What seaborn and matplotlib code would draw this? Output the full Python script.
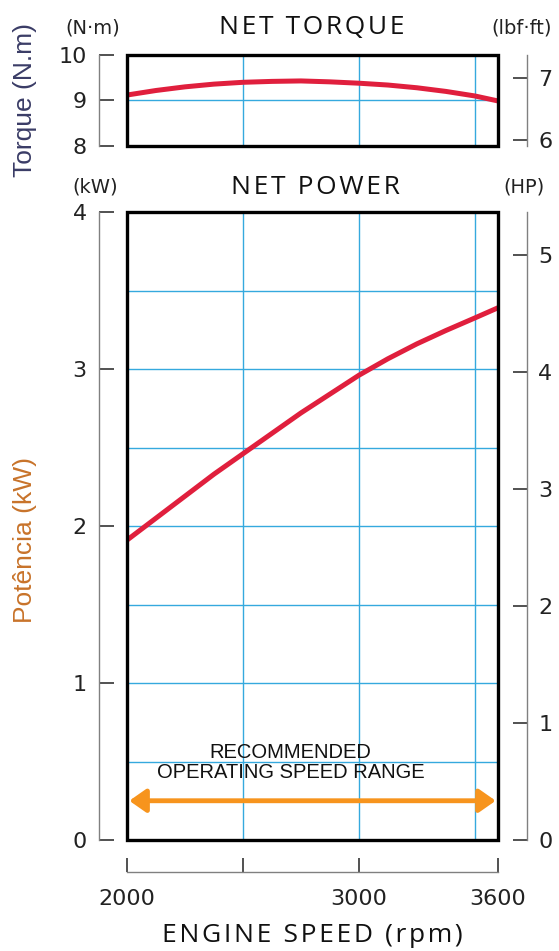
import matplotlib
matplotlib.use("Agg")
import matplotlib.pyplot as plt
import seaborn as sns
import pandas as pd
from matplotlib.patches import Rectangle

# valeurs
rpm = [2000, 2125, 2250, 2375, 2500, 2625, 2750, 2875, 3000, 3125, 3250, 3375, 3500, 3600]
torque_nm = [9.12, 9.22, 9.30, 9.36, 9.40, 9.42, 9.43, 9.41, 9.38, 9.34, 9.28, 9.20, 9.10, 8.99]
power_kw = [1.91, 2.05, 2.19, 2.33, 2.46, 2.59, 2.72, 2.84, 2.96, 3.065, 3.16, 3.245, 3.325, 3.39]

x_ticks = [2000, 2500, 3000, 3600]
x_ticklabels = ["2000", "", "3000", "3600"]
grid_rpm = [2500, 3000, 3500]
torque_ticks = [8, 9, 10]
torque_grid = [9]
lbf_ticks = [6, 7]
power_ticks = [0, 1, 2, 3, 4]
power_grid = [0.5, 1.0, 1.5, 2.0, 2.5, 3.0, 3.5]
hp_ticks = [0, 1, 2, 3, 4, 5]

NM_PER_LBFFT = 1.3558
KW_PER_HP = 0.7457

sns.set_style("white")
plt.rcParams["font.family"] = ["DejaVu Sans"]

W, H = 559, 951
fig = plt.figure(figsize=(W / 100, H / 100), dpi=100)


def rect(x0, y0, x1, y1):
    return [x0 / W, 1 - y1 / H, (x1 - x0) / W, (y1 - y0) / H]


def spaced(s):
    return "\u200a".join(s)


RED = "#e01f3d"
BLUE = "#35a9de"
GREY = "#808080"
ax_t = fig.add_axes(rect(127, 55, 498, 146))
ax_p = fig.add_axes(rect(127, 212, 498, 840))

df = pd.DataFrame({"rpm": rpm, "torque": torque_nm, "power": power_kw})


def style_axes(ax, ylim, yticks, grid_y, right_lim, right_ticks):
    ax.set_xlim(2000, 3600)
    ax.set_ylim(*ylim)
    for g in grid_rpm:
        ax.axvline(g, color=BLUE, lw=1.0, zorder=1)
    for g in grid_y:
        ax.axhline(g, color=BLUE, lw=1.0, zorder=1)
    ax.add_patch(Rectangle((0, 0), 1, 1, transform=ax.transAxes, fill=False,
                           ec="black", lw=2.4, clip_on=False, zorder=6))
    ax.spines["left"].set_position(("outward", 20))
    ax.spines["left"].set_color(GREY)
    ax.spines["left"].set_linewidth(1.0)
    ax.spines["right"].set_visible(False)
    ax.spines["top"].set_visible(False)
    ax.set_yticks(yticks)
    ax.set_yticklabels([str(t) for t in yticks])
    ax.tick_params(axis="y", left=True, direction="in", length=11, width=1.2,
                   color="#333333", pad=9, labelsize=16, labelcolor="#222222")
    ax.set_xlabel("")
    ax.set_ylabel("")

    axr = ax.twinx()
    axr.set_ylim(*right_lim)
    for side in ["left", "top", "bottom"]:
        axr.spines[side].set_visible(False)
    axr.spines["right"].set_position(("outward", 21))
    axr.spines["right"].set_color(GREY)
    axr.spines["right"].set_linewidth(1.0)
    axr.set_yticks(right_ticks)
    axr.set_yticklabels([str(t) for t in right_ticks])
    axr.tick_params(axis="y", right=True, direction="in", length=10, width=1.2,
                    color="#333333", pad=8, labelsize=16, labelcolor="#222222")
    axr.grid(False)
    return axr


# couple
sns.lineplot(data=df, x="rpm", y="torque", ax=ax_t, color=RED, lw=3.6, zorder=4)
style_axes(ax_t, (8, 10), torque_ticks, torque_grid,
           (8 / NM_PER_LBFFT, 10 / NM_PER_LBFFT), lbf_ticks)
ax_t.spines["bottom"].set_visible(False)
ax_t.set_xticks([])

# puissance
sns.lineplot(data=df, x="rpm", y="power", ax=ax_p, color=RED, lw=3.6, zorder=4)
style_axes(ax_p, (0, 4), power_ticks, power_grid,
           (0, 4 / KW_PER_HP), hp_ticks)
ax_p.spines["bottom"].set_position(("outward", 23))
ax_p.spines["bottom"].set_color(GREY)
ax_p.spines["bottom"].set_linewidth(1.0)
ax_p.set_xticks(x_ticks)
ax_p.set_xticklabels(x_ticklabels)
ax_p.tick_params(axis="x", bottom=True, direction="in", length=10, width=1.2,
                 color="#333333", pad=12, labelsize=16, labelcolor="#222222")

ax_p.annotate("", xy=(3590, 0.25), xytext=(2010, 0.25),
              arrowprops=dict(arrowstyle="<|-|>,head_length=0.5,head_width=0.35",
                              color="#f7941d", lw=3.5, mutation_scale=20,
                              shrinkA=0, shrinkB=0), zorder=5)
ax_p.text(2705, 0.56, "RECOMMENDED", ha="center", va="center",
          fontsize=14.5, family="Liberation Sans", color="#111111", zorder=5)
ax_p.text(2705, 0.43, "OPERATING SPEED RANGE", ha="center", va="center",
          fontsize=14.5, family="Liberation Sans", color="#111111", zorder=5)

title_font = ["Open Sans", "DejaVu Sans"]
fig.text(312 / W, 1 - 28 / H, spaced("NET TORQUE"), ha="center", va="center",
         fontsize=19, family=title_font, color="#111111")
fig.text(315 / W, 1 - 187 / H, spaced("NET POWER"), ha="center", va="center",
         fontsize=19, family=title_font, color="#111111")
fig.text(312 / W, 1 - 936 / H, spaced("ENGINE SPEED (rpm)"), ha="center",
         va="center", fontsize=19, family=title_font, color="#111111")

fig.text(93 / W, 1 - 28 / H, "(N·m)", ha="center", va="center", fontsize=14,
         color="#222222")
fig.text(522 / W, 1 - 28 / H, "(lbf·ft)", ha="center", va="center",
         fontsize=14, color="#222222")
fig.text(95 / W, 1 - 187 / H, "(kW)", ha="center", va="center", fontsize=14,
         color="#222222")
fig.text(524 / W, 1 - 187 / H, "(HP)", ha="center", va="center", fontsize=14,
         color="#222222")

fig.text(25 / W, 1 - 100 / H, "Torque (N.m)", rotation=90, ha="center",
         va="center", fontsize=19, family="Liberation Sans", color="#3a3c66")
fig.text(25 / W, 1 - 540 / H, "Potência (kW)", rotation=90, ha="center",
         va="center", fontsize=19, family="Liberation Sans", color="#c8732a")

fig.savefig("out.png", dpi=100)
